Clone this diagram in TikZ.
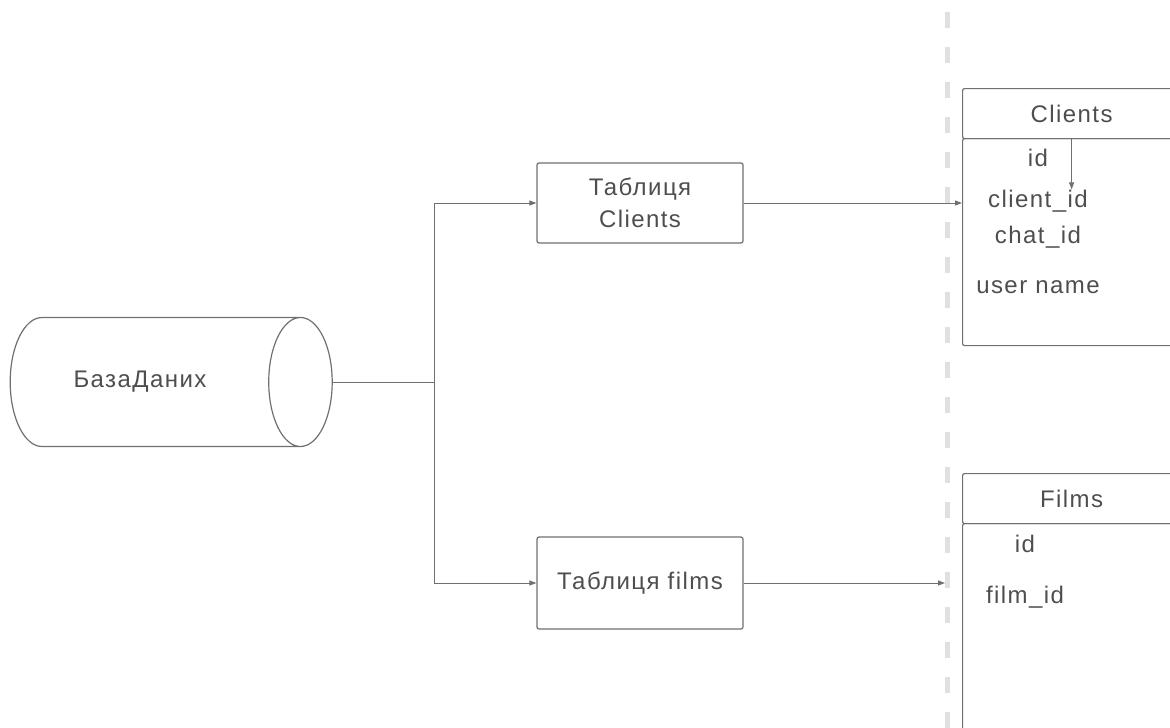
\documentclass[tikz,border=0pt]{standalone}
\usepackage{fontspec}
\setmainfont{Liberation Sans}[LetterSpace=6]
\usetikzlibrary{shapes.geometric,arrows.meta}
\definecolor{erline}{RGB}{112,112,112}
\definecolor{ertext}{RGB}{78,78,78}
\definecolor{erdash}{RGB}{224,224,224}

\begin{document}
\begin{tikzpicture}[x=1pt,y=-1pt,
  font=\fontsize{24}{32}\selectfont,text=ertext,
  db/.style={cylinder,draw=erline,fill=white,line width=1.2pt,minimum width=129pt,minimum height=322pt,aspect=2.27},
  box/.style={draw=erline,fill=white,rounded corners=2pt,align=center,line width=1.2pt,minimum width=206pt,minimum height=80pt},
  tblhead/.style={draw=erline,rounded corners=2pt,line width=1.2pt,anchor=north west,minimum width=218pt,minimum height=50pt},
  tblbody/.style={draw=erline,rounded corners=2pt,line width=1.2pt,anchor=north west,minimum width=218pt},
  field/.style={inner sep=0pt,anchor=base},
  link/.style={erline,line width=1pt},
  tip/.style={-{Triangle[length=7pt,width=5pt]}},
  divider/.style={erdash,line width=5pt,dash pattern=on 16pt off 19pt}]

\useasboundingbox (0,0) rectangle (1170,728);
\clip (0,0) rectangle (1170,728);

% separator between the flow and the tables
\draw[divider] (947,12) -- (947,728);

\node[db] (db) at (150,382) {БазаДаних\hspace*{20pt}};
\node[box] (clientsT) at (640,203) {Таблиця\\Clients};
\node[box,minimum height=92pt] (filmsT) at (640,583) {Таблиця films};

% tables
\node[tblhead] (clientsHead) at (962,88) {Clients};
\node[tblbody,minimum height=207pt] (clientsBody) at (962,138) {};
\node[field] (clientsId) at (1038,166) {id};
\node[field] (clientsClientId) at (1038,207) {client\_id};
\node[field] (clientsChatId) at (1038,243) {chat\_id};
\node[field] (clientsUser) at (1038,293) {user name};

\node[tblhead] (filmsHead) at (962,473) {Films};
\node[tblbody,minimum height=260pt] (filmsBody) at (962,523) {};
\node[field] (filmsId) at (1025,552) {id};
\node[field] (filmsFilmId) at (1025,603) {film\_id};
\coordinate (filmsEnd) at (945,583);

\draw[link] (db.east) -- ++(102,0) coordinate (fork);
\draw[link,tip] (fork) |- (clientsT.west);
\draw[link,tip] (fork) |- (filmsT.west);
\draw[link,tip] (clientsT.east) -- (clientsT.east -| clientsBody.west);
\draw[link,tip] (filmsT.east) -- (filmsEnd);
\draw[link,tip] (clientsHead.south) -- (clientsHead.south |- clientsClientId.north);
\end{tikzpicture}
\end{document}
